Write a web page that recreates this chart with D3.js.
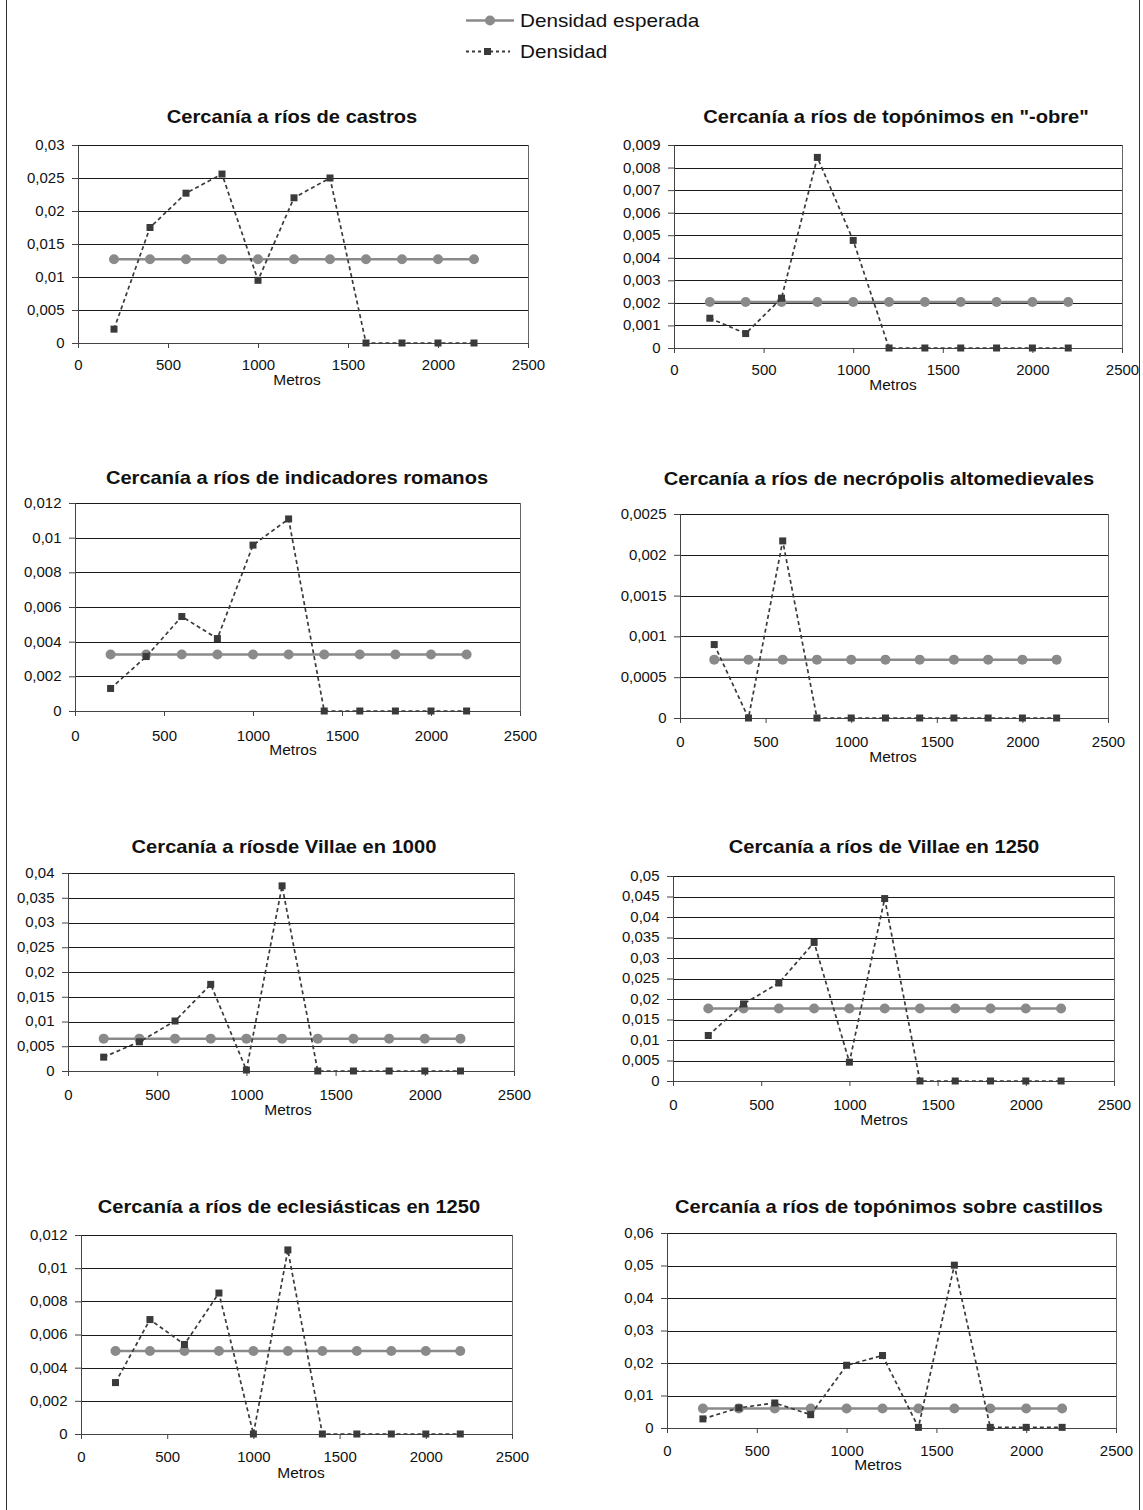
<!DOCTYPE html>
<html>
<head>
<meta charset="utf-8">
<script src="https://cdn.jsdelivr.net/npm/d3@7"></script>
<style>
  html, body { margin: 0; padding: 0; background: #fff; overflow: hidden; }
  svg text { font-family: "Liberation Sans", Arial, sans-serif; fill: #111; }
</style>
<title>Cercanía a ríos</title>
</head>
<body>
<svg id="chart" width="1143" height="1510"></svg>
<script>
// distances (m) where the density was measured
const distances = [200, 400, 600, 800, 1000, 1200, 1400, 1600, 1800, 2000, 2200];
const xTickValues = [0, 500, 1000, 1500, 2000, 2500];
const xAxisLabel = "Metros";
const legendLabels = ["Densidad esperada", "Densidad"];

const titles = [
  "Cercanía a ríos de castros",
  "Cercanía a ríos de topónimos en \"-obre\"",
  "Cercanía a ríos de indicadores romanos",
  "Cercanía a ríos de necrópolis altomedievales",
  "Cercanía a ríosde Villae en 1000",
  "Cercanía a ríos de Villae en 1250",
  "Cercanía a ríos de eclesiásticas en 1250",
  "Cercanía a ríos de topónimos sobre castillos"
];

// expected density (flat line) per panel
const expectedDensity = [0.0127, 0.00204, 0.00326, 0.000715, 0.00654, 0.0177, 0.005, 0.006];

// observed density per panel
const densCastros = [0.0021, 0.0175, 0.0227, 0.0256, 0.0095, 0.0220, 0.0250, 0, 0, 0, 0];
const densObre = [0.00132, 0.00064, 0.00221, 0.00845, 0.00477, 0, 0, 0, 0, 0, 0];
const densRomanos = [0.0013, 0.00314, 0.00545, 0.00418, 0.00957, 0.01108, 0, 0, 0, 0, 0];
const densNecropolis = [0.0009, 0, 0.00217, 0, 0, 0, 0, 0, 0, 0, 0];
const densVillae1000 = [0.0028, 0.0059, 0.0101, 0.0175, 0.0002, 0.0374, 0, 0, 0, 0, 0];
const densVillae1250 = [0.0111, 0.0188, 0.0239, 0.0338, 0.0046, 0.0445, 0, 0, 0, 0, 0];
const densEclesiasticas = [0.0031, 0.0069, 0.0054, 0.0085, 0, 0.0111, 0, 0, 0, 0, 0];
const densCastillos = [0.0028, 0.0062, 0.0077, 0.0041, 0.0193, 0.0223, 0.0002, 0.0501, 0.0002, 0.0002, 0.0002];
const densities = [densCastros, densObre, densRomanos, densNecropolis,
                   densVillae1000, densVillae1250, densEclesiasticas, densCastillos];

const yTickLabels = [
  ["0", "0,005", "0,01", "0,015", "0,02", "0,025", "0,03"],
  ["0", "0,001", "0,002", "0,003", "0,004", "0,005", "0,006", "0,007", "0,008", "0,009"],
  ["0", "0,002", "0,004", "0,006", "0,008", "0,01", "0,012"],
  ["0", "0,0005", "0,001", "0,0015", "0,002", "0,0025"],
  ["0", "0,005", "0,01", "0,015", "0,02", "0,025", "0,03", "0,035", "0,04"],
  ["0", "0,005", "0,01", "0,015", "0,02", "0,025", "0,03", "0,035", "0,04", "0,045", "0,05"],
  ["0", "0,002", "0,004", "0,006", "0,008", "0,01", "0,012"],
  ["0", "0,01", "0,02", "0,03", "0,04", "0,05", "0,06"]
];

// plot boxes and label spots for the 8 panels (pixels)
const panels = [
  { left: 78,  right: 528,  top: 145,  bottom: 343,  titleX: 292, titleY: 123,  tickBase: 370.5,  metrosX: 297, metrosY: 385 },
  { left: 674, right: 1122, top: 145,  bottom: 348,  titleX: 896, titleY: 123,  tickBase: 375,    metrosX: 893, metrosY: 390 },
  { left: 75,  right: 520,  top: 503,  bottom: 711,  titleX: 297, titleY: 484,  tickBase: 741.5,  metrosX: 293, metrosY: 755 },
  { left: 680, right: 1108, top: 514,  bottom: 718,  titleX: 879, titleY: 485,  tickBase: 747,    metrosX: 893, metrosY: 761.5 },
  { left: 68,  right: 514,  top: 873,  bottom: 1071, titleX: 284, titleY: 852.5, tickBase: 1100.5, metrosX: 288, metrosY: 1115 },
  { left: 673, right: 1114, top: 876,  bottom: 1081, titleX: 884, titleY: 852.5, tickBase: 1110.5, metrosX: 884, metrosY: 1125 },
  { left: 81,  right: 512,  top: 1235, bottom: 1434, titleX: 289, titleY: 1212.5, tickBase: 1462.5, metrosX: 301, metrosY: 1478 },
  { left: 667, right: 1116, top: 1233, bottom: 1428, titleX: 889, titleY: 1212.5, tickBase: 1456,   metrosX: 878, metrosY: 1470 }
];

const SX = 1.15;      // titles and legend are a bit wider than tall in the source
const SX_AXIS = 1.07; // tick labels and axis name
const expColor = "#8a8a8a";
const densColor = "#3a3a3a";

const svg = d3.select("#chart");

// frame of the figure (only the side edges show)
svg.append("line").attr("x1", 6.5).attr("x2", 6.5).attr("y1", 0).attr("y2", 1510)
  .attr("stroke", "#333").attr("stroke-width", 1);
svg.append("line").attr("x1", 1139.5).attr("x2", 1139.5).attr("y1", 0).attr("y2", 1510)
  .attr("stroke", "#333").attr("stroke-width", 1);

// legend
const legend = svg.append("g");
legend.append("line").attr("x1", 466).attr("x2", 514).attr("y1", 20.5).attr("y2", 20.5)
  .attr("stroke", expColor).attr("stroke-width", 2.5);
legend.append("circle").attr("cx", 490).attr("cy", 20.5).attr("r", 5).attr("fill", expColor);
legend.append("line").attr("x1", 466).attr("x2", 510).attr("y1", 51.5).attr("y2", 51.5)
  .attr("stroke", densColor).attr("stroke-width", 2).attr("stroke-dasharray", "3,3");
legend.append("rect").attr("x", 484).attr("y", 48).attr("width", 7).attr("height", 7).attr("fill", densColor);
legend.selectAll("text.leg").data(legendLabels).join("text")
  .attr("class", "leg")
  .attr("transform", (d, i) => "translate(520," + (i === 0 ? 26.5 : 57.5) + ") scale(" + SX + ",1)")
  .style("font-size", "18px")
  .text(d => d);

panels.forEach(function (p, i) {
  var g = svg.append("g");
  var yVals = yTickLabels[i].map(s => +s.replace(",", "."));
  var x = d3.scaleLinear().domain([0, 2500]).range([p.left, p.right]);
  var y = d3.scaleLinear().domain([0, d3.max(yVals)]).range([p.bottom, p.top]);

  // horizontal gridlines
  g.append("g").selectAll("line").data(yVals).join("line")
    .attr("x1", p.left).attr("x2", p.right)
    .attr("y1", d => Math.round(y(d)) + 0.5).attr("y2", d => Math.round(y(d)) + 0.5)
    .attr("stroke", "#1a1a1a").attr("stroke-width", 1);

  // right edge of plot area
  g.append("line").attr("x1", p.right + 0.5).attr("x2", p.right + 0.5)
    .attr("y1", p.top).attr("y2", p.bottom + 1)
    .attr("stroke", "#666");

  // y axis
  var yAxis = g.append("g").attr("transform", "translate(" + p.left + ",0)")
    .call(d3.axisLeft(y).tickValues(yVals).tickFormat((d, k) => yTickLabels[i][k]).tickSize(6).tickPadding(0));
  yAxis.select(".domain").attr("stroke", "#444");
  yAxis.selectAll(".tick line").attr("stroke", "#444");
  yAxis.selectAll("text")
    .attr("x", -13.5 / SX_AXIS)
    .attr("transform", "scale(" + SX_AXIS + ",1)")
    .style("font-size", "14px")
    .style("font-family", "'Liberation Sans', Arial, sans-serif")
    .attr("fill", "#111");

  // x axis
  var xAxis = g.append("g").attr("transform", "translate(0," + p.bottom + ")")
    .call(d3.axisBottom(x).tickValues(xTickValues).tickFormat(d3.format("d")).tickSize(5).tickPadding(0));
  xAxis.select(".domain").attr("stroke", "#444");
  xAxis.selectAll(".tick line").attr("stroke", "#444");
  xAxis.selectAll("text")
    .attr("dy", null)
    .attr("y", p.tickBase - p.bottom)
    .attr("transform", "scale(" + SX_AXIS + ",1)")
    .style("font-size", "14px")
    .style("font-family", "'Liberation Sans', Arial, sans-serif")
    .attr("fill", "#111");

  // title
  g.append("text")
    .attr("transform", "translate(" + p.titleX + "," + p.titleY + ") scale(" + SX + ",1)")
    .attr("text-anchor", "middle")
    .style("font-size", "17.5px").style("font-weight", "bold")
    .text(titles[i]);

  // axis name
  g.append("text")
    .attr("transform", "translate(" + p.metrosX + "," + p.metrosY + ") scale(" + SX_AXIS + ",1)")
    .attr("text-anchor", "middle")
    .style("font-size", "14.5px")
    .text(xAxisLabel);

  // expected density
  var expPts = distances.map(d => [d, expectedDensity[i]]);
  var line = d3.line().x(d => x(d[0])).y(d => y(d[1]));
  g.append("path").datum(expPts).attr("d", line)
    .attr("fill", "none").attr("stroke", expColor).attr("stroke-width", 2.5);
  g.selectAll("circle.exp").data(expPts).join("circle").attr("class", "exp")
    .attr("cx", d => x(d[0])).attr("cy", d => y(d[1])).attr("r", 5)
    .attr("fill", expColor);

  // observed density
  var densPts = distances.map((d, k) => [d, densities[i][k]]);
  g.append("path").datum(densPts).attr("d", line)
    .attr("fill", "none").attr("stroke", densColor).attr("stroke-width", 1.7)
    .attr("stroke-dasharray", "4,3");
  g.selectAll("rect.dens").data(densPts).join("rect").attr("class", "dens")
    .attr("x", d => x(d[0]) - 3.5).attr("y", d => y(d[1]) - 3.5)
    .attr("width", 7).attr("height", 7)
    .attr("fill", densColor);
});
</script>
</body>
</html>
